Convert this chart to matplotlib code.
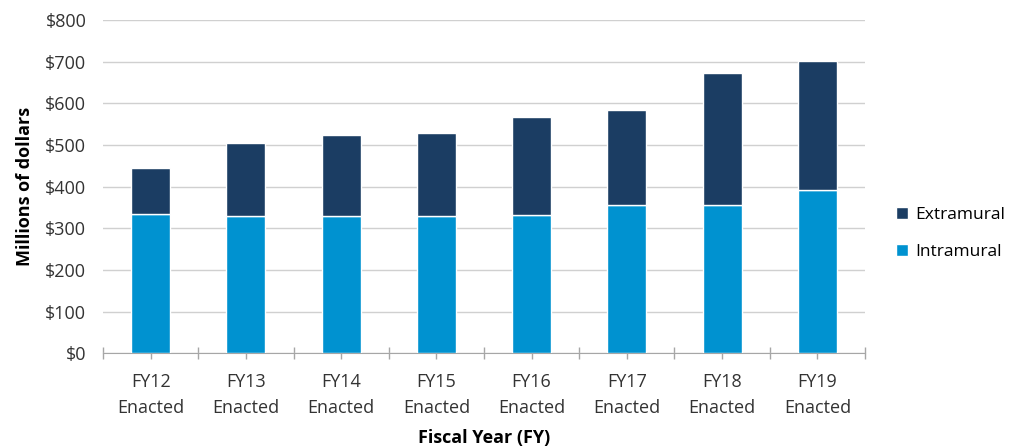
import matplotlib.pyplot as plt
import numpy as np
from matplotlib.ticker import FixedLocator, FuncFormatter

plt.rcParams['font.family'] = ['Open Sans', 'DejaVu Sans']
plt.rcParams['font.size'] = 13

categories = ["FY12\nEnacted", "FY13\nEnacted", "FY14\nEnacted", "FY15\nEnacted",
              "FY16\nEnacted", "FY17\nEnacted", "FY18\nEnacted", "FY19\nEnacted"]
intramural = [335, 330, 330, 330, 333, 355, 355, 392]
extramural = [110, 175, 195, 200, 234, 229, 318, 310]

c_intra = "#0092D0"
c_extra = "#1B3D63"

fig = plt.figure(figsize=(10.2, 4.47), dpi=100)
ax = fig.add_axes([0.101, 0.21, 0.747, 0.745])

x = np.arange(len(categories))
ax.bar(x, intramural, width=0.41, color=c_intra, edgecolor="white", linewidth=1, label="Intramural", zorder=3)
ax.bar(x, extramural, width=0.41, bottom=intramural, color=c_extra, edgecolor="white",
       linewidth=1, label="Extramural", zorder=3)

ax.set_xlim(-0.5, len(categories) - 0.5)
ax.set_ylim(0, 800)
ax.set_yticks(range(0, 801, 100))
ax.yaxis.set_major_formatter(FuncFormatter(lambda v, p: f"${int(v)}"))
ax.grid(axis="y", color="#D0D0D0", linewidth=1, zorder=0)

ax.set_xticks(x)
ax.set_xticklabels(categories, color="#333333", linespacing=1.55)
ax.xaxis.set_minor_locator(FixedLocator(np.arange(-0.5, len(categories), 1)))
ax.tick_params(axis="x", which="both", direction="inout", length=9, color="#A6A6A6", width=1, pad=10)
ax.tick_params(axis="y", length=0, pad=12, colors="#333333")

for s in ["top", "right", "left"]:
    ax.spines[s].set_visible(False)
ax.spines["bottom"].set_color("#A6A6A6")

ax.set_ylabel("Millions of dollars", fontweight="bold", labelpad=8)
ax.set_xlabel("Fiscal Year (FY)", fontweight="bold", labelpad=9)

handles, labels = ax.get_legend_handles_labels()
ax.legend(handles[::-1], labels[::-1], loc="center left", bbox_to_anchor=(1.02, 0.36),
          frameon=False, handlelength=0.7, handleheight=0.7, handletextpad=0.4,
          labelspacing=1.2, fontsize=12.5)

fig.savefig("out.png", dpi=100)
